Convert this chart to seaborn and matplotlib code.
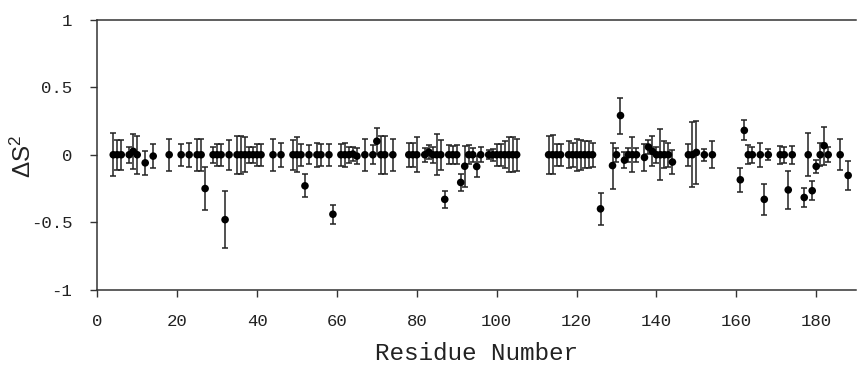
import numpy as np
import pandas as pd
import matplotlib
matplotlib.use('Agg')
import matplotlib.pyplot as plt
import seaborn as sns

# residue numbers, order parameter change and its error
residues = [4, 5, 6, 8, 9, 10, 12, 14, 18, 21, 23, 25, 26, 27, 29, 30, 31, 32, 33, 35,
            36, 37, 38, 39, 40, 41, 44, 46, 49, 50, 51, 52, 53, 55, 56, 58, 59, 61, 62, 63,
            64, 65, 67, 69, 70, 71, 72, 74, 78, 79, 80, 82, 83, 84, 85, 86, 87, 88, 89, 90,
            91, 92, 93, 94, 95, 96, 98, 99, 100, 101, 102, 103, 104, 105, 113, 114, 115, 116, 118, 119,
            120, 121, 122, 123, 124, 126, 129, 130, 131, 132, 133, 134, 135, 137, 138, 139, 140, 141, 142, 143,
            144, 148, 149, 150, 152, 154, 161, 162, 163, 164, 166, 167, 168, 171, 172, 173, 174, 177, 178, 179,
            180, 181, 182, 183, 186, 188]
delta_s2 = [0, 0, 0, 0, 0.025, 0, -0.06, -0.01, 0, 0, 0, 0, 0, -0.25, 0, 0, 0, -0.48, 0, 0,
            0, 0, 0, 0, 0, 0, 0, 0, 0, 0, 0, -0.23, 0, 0, 0, 0, -0.44, 0, 0, 0,
            0.005, -0.01, 0, 0, 0.10, 0, 0, 0, 0, 0, 0, 0, 0.02, 0, 0, 0, -0.33, 0, 0, 0,
            -0.205, -0.085, 0, 0, -0.087, 0, 0, 0, 0, 0, 0, 0, 0, 0, 0, 0, 0, 0, 0, 0,
            0, 0, 0, 0, 0, -0.40, -0.08, 0, 0.29, -0.04, 0, 0, 0, -0.02, 0.057, 0.025, 0, 0, 0, 0,
            -0.054, 0, 0, 0.017, 0, 0, -0.185, 0.18, 0, 0, 0, -0.33, 0, 0, 0, -0.26, 0, -0.316, 0, -0.266,
            -0.086, 0, 0.067, 0, 0, -0.153]
errors = [0.16, 0.11, 0.11, 0.06, 0.13, 0.14, 0.09, 0.09, 0.12, 0.08, 0.09, 0.12, 0.12, 0.16, 0.06, 0.08, 0.08, 0.21, 0.11, 0.14,
          0.14, 0.13, 0.06, 0.06, 0.08, 0.08, 0.12, 0.09, 0.11, 0.13, 0.08, 0.086, 0.07, 0.09, 0.08, 0.08, 0.07, 0.08, 0.09, 0.06,
          0.05, 0.06, 0.12, 0.07, 0.095, 0.14, 0.14, 0.12, 0.09, 0.09, 0.13, 0.05, 0.05, 0.06, 0.15, 0.11, 0.065, 0.07, 0.065, 0.07,
          0.064, 0.15, 0.07, 0.05, 0.08, 0.055, 0.035, 0.045, 0.08, 0.08, 0.10, 0.13, 0.13, 0.12, 0.14, 0.145, 0.08, 0.08, 0.10, 0.09,
          0.12, 0.11, 0.10, 0.10, 0.09, 0.117, 0.17, 0.05, 0.133, 0.06, 0.05, 0.13, 0.05, 0.10, 0.05, 0.11, 0.06, 0.19, 0.10, 0.09,
          0.09, 0.08, 0.24, 0.23, 0.045, 0.10, 0.09, 0.074, 0.07, 0.06, 0.09, 0.115, 0.04, 0.065, 0.06, 0.14, 0.065, 0.068, 0.16, 0.07,
          0.05, 0.085, 0.14, 0.055, 0.115, 0.11]

df = pd.DataFrame({'residue': residues, 'ds2': delta_s2, 'err': errors})

sns.set_style('ticks')
plt.rcParams['font.family'] = ['Liberation Mono', 'DejaVu Sans']
plt.rcParams['mathtext.fontset'] = 'custom'
plt.rcParams['mathtext.rm'] = 'Liberation Sans'
plt.rcParams['mathtext.it'] = 'Liberation Sans:italic'

fig = plt.figure(figsize=(8.57, 3.66), dpi=100)
ax = fig.add_axes([0.1135, 0.2077, 0.8855, 0.739])

ax.errorbar(df['residue'], df['ds2'], yerr=df['err'], fmt='none',
            ecolor='#222222', elinewidth=1.1, capsize=2.5, capthick=1.1, zorder=2)
sns.scatterplot(data=df, x='residue', y='ds2', ax=ax, color='black', s=30,
                edgecolor='none', zorder=3, legend=False)

ax.set_xlim(0, 190)
ax.set_ylim(-1, 1)
ax.set_xticks(np.arange(0, 181, 20))
ax.set_yticks([-1, -0.5, 0, 0.5, 1])
ax.set_yticklabels(['-1', '-0.5', '0', '0.5', '1'])

for sp in ax.spines.values():
    sp.set_color('#333333')
    sp.set_linewidth(1.1)
ax.spines['right'].set_visible(False)

ax.tick_params(axis='both', direction='out', length=5, width=1.0, color='#333333',
               labelsize=12.5, labelcolor='#222222')
ax.tick_params(axis='x', pad=12)
ax.tick_params(axis='y', pad=13)

ax.set_xlabel('Residue Number', fontsize=17.5, color='#222222', labelpad=9.5)
ax.set_ylabel(r'$\mathrm{\Delta S}^{2}$', fontsize=17.5, color='#222222')
ax.yaxis.set_label_coords(-0.0807, 0.495)

fig.savefig('out.png', dpi=100)
